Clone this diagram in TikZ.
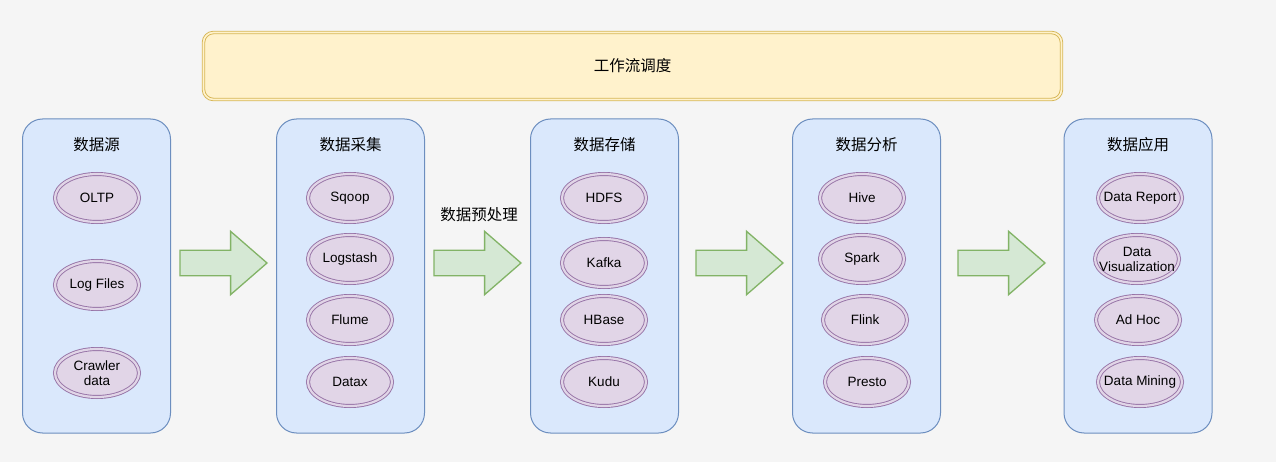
\documentclass[tikz,border=0pt]{standalone}
\usepackage{fontspec}
\setmainfont{Liberation Sans}
\newfontfamily\cjk{Noto Sans CJK SC}
\usetikzlibrary{shapes.geometric,shapes.arrows}
\definecolor{cBack}{HTML}{F5F5F5}
\definecolor{cFlowB}{HTML}{D6B656}
\definecolor{cFlowF}{HTML}{FFF2CC}
\definecolor{cColB}{HTML}{6C8EBF}
\definecolor{cColF}{HTML}{DAE8FC}
\definecolor{cToolB}{HTML}{9673A6}
\definecolor{cToolF}{HTML}{E1D5E7}
\definecolor{cArrB}{HTML}{82B366}
\definecolor{cArrF}{HTML}{D5E8D4}
\tikzset{
  colbox/.style={draw=cColB, fill=cColF, line width=1pt, rounded corners=20pt,
                 minimum width=148pt, minimum height=314pt, inner sep=0pt},
  flowbar/.style={draw=cFlowB, fill=cFlowF, double=cFlowF, double distance=1.6pt,
                  line width=0.9pt, rounded corners=10pt, minimum width=858pt,
                  minimum height=67pt, font=\cjk\fontsize{15.5}{18}\selectfont},
  tool/.style={ellipse, draw=cToolB, fill=cToolF, double=cToolF, double distance=2.2pt,
               line width=0.9pt, minimum width=84pt, minimum height=48pt,
               inner xsep=-14pt, inner ysep=0pt, align=center,
               font=\fontsize{13.5}{15}\selectfont},
  ttl/.style={font=\cjk\fontsize{15.5}{18}\selectfont, inner sep=1pt},
  blockar/.style={single arrow, draw=cArrB, fill=cArrF, line width=1.3pt,
                  minimum height=87pt, inner xsep=0pt, inner ysep=12pt,
                  single arrow head extend=19pt, single arrow tip angle=82,
                  anchor=tip},
}

\begin{document}
\begin{tikzpicture}[x=1pt, y=-1pt]
    \fill[cBack] (0,0) rectangle (1276,462);
    \useasboundingbox (0,0) rectangle (1276,462);

    % scheduler bar
    \node[flowbar] (flow) at (632.5,66) {工作流调度};

    % column 1 — sources
    \node[colbox] (col1) at (96.5,276) {};
    \node[ttl] (t1) at (96.5,145) {数据源};
    \node[tool] (oltp) at (97,198) {OLTP};
    \node[tool] (logf) at (97,285) {Log Files};
    \node[tool] (crawl) at (97,373) {Crawler\\ data};

    % column 2 — ingestion
    \node[colbox] (col2) at (350.5,276) {};
    \node[ttl] (t2) at (350.5,145) {数据采集};
    \node[tool] (sqoop) at (350,198) {Sqoop};
    \node[tool] (logst) at (350,259) {Logstash};
    \node[tool] (flume) at (350,320) {Flume};
    \node[tool] (datax) at (350,382) {Datax};

    % column 3 — storage
    \node[colbox] (col3) at (604.5,276) {};
    \node[ttl] (t3) at (604.5,145) {数据存储};
    \node[tool] (hdfs) at (604,198) {HDFS};
    \node[tool] (kafka) at (604,263) {Kafka};
    \node[tool] (hbase) at (604,320) {HBase};
    \node[tool] (kudu) at (604,382) {Kudu};

    % column 4 — analysis
    \node[colbox] (col4) at (866.5,276) {};
    \node[ttl] (t4) at (866.5,145) {数据分析};
    \node[tool] (hive) at (862,198) {Hive};
    \node[tool] (spark) at (862,259) {Spark};
    \node[tool] (flink) at (865,320) {Flink};
    \node[tool] (presto) at (867,382) {Presto};

    % column 5 — applications
    \node[colbox] (col5) at (1138,276) {};
    \node[ttl] (t5) at (1138,145) {数据应用};
    \node[tool] (rep) at (1140,198) {Data Report};
    \node[tool] (vis) at (1137,259) {Data\\ Visualization};
    \node[tool] (adhoc) at (1138,320) {Ad Hoc};
    \node[tool] (mine) at (1140,382) {Data Mining};

    % block arrows between stages
    \node[blockar] (a1) at (268,263) {};
    \node[blockar] (a2) at (522,263) {};
    \node[blockar] (a3) at (784,263) {};
    \node[blockar] (a4) at (1046,263) {};
    \node[ttl] (pre) at (479,215) {数据预处理};
\end{tikzpicture}
\end{document}
